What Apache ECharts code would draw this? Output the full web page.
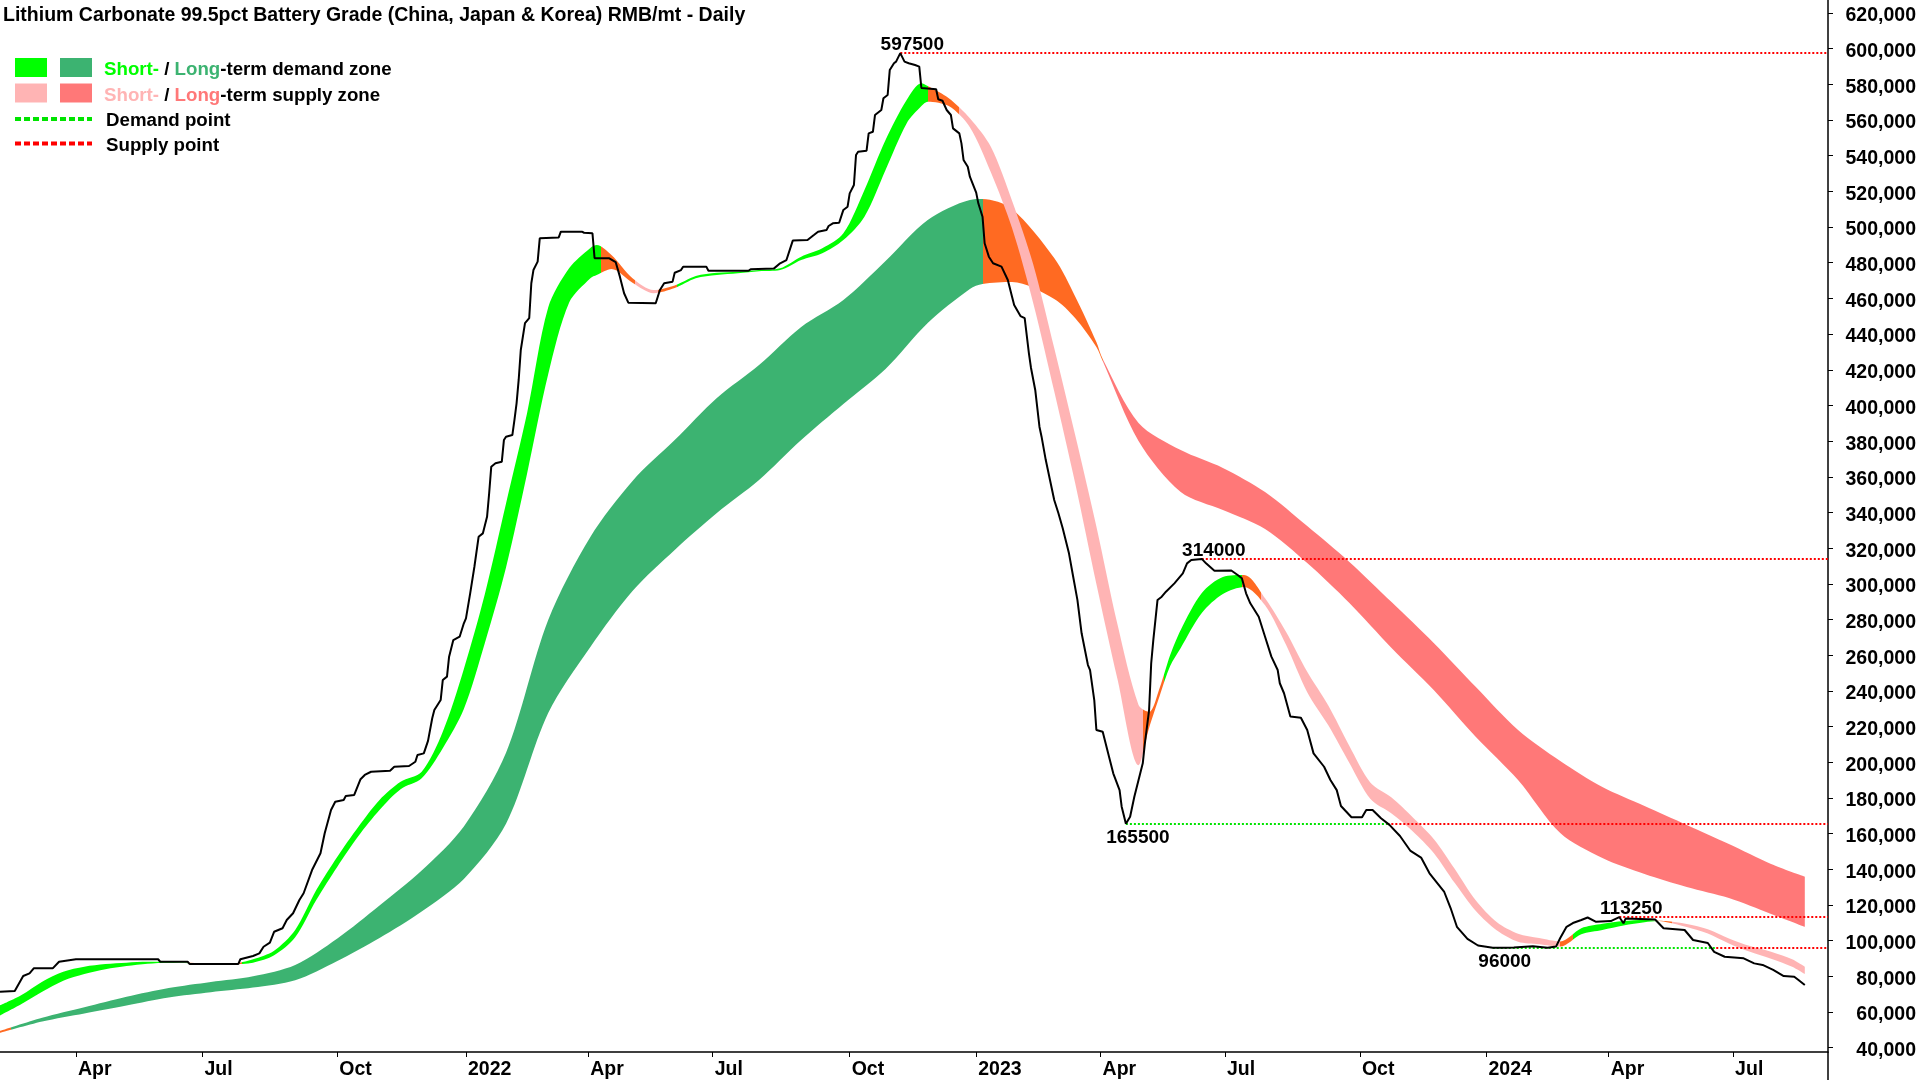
<!DOCTYPE html>
<html>
<head>
<meta charset="utf-8">
<script src="https://cdn.jsdelivr.net/npm/echarts@6/dist/echarts.min.js"></script>
<style>
html,body{margin:0;padding:0;background:#ffffff;}
#chart{width:1920px;height:1080px;}
</style>
</head>
<body>
<div id="chart"></div>
<script>
// ---------------- DATA ----------------
const chartTitle = 'Lithium Carbonate 99.5pct Battery Grade (China, Japan & Korea) RMB/mt - Daily';
const firstTradingDay = '2021-02-03';
const lastAxisDay = '2024-09-02';
// Chinese market holidays (weekdays without trading)
const marketHolidays = [
 '2021-02-11','2021-02-12','2021-02-15','2021-02-16','2021-02-17','2021-04-05','2021-05-03','2021-05-04','2021-05-05','2021-06-14','2021-09-20','2021-09-21','2021-10-01','2021-10-04','2021-10-05','2021-10-06','2021-10-07',
 '2022-01-03','2022-01-31','2022-02-01','2022-02-02','2022-02-03','2022-02-04','2022-04-04','2022-04-05','2022-05-02','2022-05-03','2022-05-04','2022-06-03','2022-09-12','2022-10-03','2022-10-04','2022-10-05','2022-10-06','2022-10-07',
 '2023-01-02','2023-01-23','2023-01-24','2023-01-25','2023-01-26','2023-01-27','2023-04-05','2023-05-01','2023-05-02','2023-05-03','2023-06-22','2023-06-23','2023-09-29','2023-10-02','2023-10-03','2023-10-04','2023-10-05','2023-10-06',
 '2024-01-01','2024-02-09','2024-02-12','2024-02-13','2024-02-14','2024-02-15','2024-02-16','2024-04-04','2024-04-05','2024-05-01','2024-05-02','2024-05-03','2024-06-10'
];

// Price (session number since first trading day, RMB/mt)
const priceSessions = [0,7,11,14,16,25,28,36,75,76,89,90,113,114,120,123,125,128,130,134,136,139,142,144,148,152,154,157,159,163,164,168,171,173,176,185,187,194,197,198,201,203,205,206,209,210,212,213,215,218,220,221,223,225,227,229,231,232,233,235,238,239,240,243,244,245,246,247,249,251,252,253,255,256,265,266,276,277,281,282,289,292,294,296,298,311,313,315,319,320,323,324,335,336,355,356,367,370,373,376,383,386,388,392,393,395,398,400,402,403,405,406,407,411,412,414,415,418,419,421,422,424,425,427,429,431,434,436,437,444,445,447,449,451,452,455,456,457,459,460,463,464,466,467,469,471,475,478,480,481,484,486,488,489,491,493,494,496,498,500,502,504,507,509,511,513,516,517,519,520,523,526,528,531,532,534,536,538,540,542,543,545,546,547,549,551,553,557,561,563,565,570,572,576,584,587,589,591,593,597,600,603,606,607,609,612,617,620,623,628,631,634,636,641,646,648,651,655,659,664,669,674,678,685,688,691,696,701,708,714,718,727,734,738,740,743,746,750,753,757,764,768,770,771,785,789,799,803,810,813,818,827,832,836,841,846,851,853,856];
const priceValues = [71400,71800,80200,81700,84500,84500,88200,89600,89600,88200,88200,86900,86900,89600,91400,92900,96600,98900,105000,107000,111600,115400,122800,126600,139600,149000,160200,173300,177900,178900,181100,181700,190500,192900,194700,195300,197500,197900,200300,204100,205000,212000,224700,229300,234900,246100,248000,259200,268500,270400,277900,280700,294700,309600,326400,328300,337600,350800,365700,367600,368500,380600,382500,383400,391900,401200,414300,431100,446100,448900,468500,475900,480600,493700,494200,497400,497400,496800,496500,482500,482500,480400,472200,462900,457600,457300,464700,468500,469400,474400,475900,477800,477800,475500,475500,476300,476700,479700,481500,492400,492700,495500,497400,498300,500600,502100,502400,509600,511400,518900,523600,540400,542200,542800,552500,553400,562800,565600,572200,574000,588000,591800,592700,597500,592700,591800,590800,589900,578000,577200,571600,570800,565600,562800,555300,552500,546900,537600,533800,528200,519300,513300,505800,490900,483400,479700,477800,470300,461000,456300,450100,448900,429200,421000,408700,388100,382500,369400,358200,347000,339600,331300,317100,304000,291000,272300,254500,251700,234900,218100,217100,203100,193800,184400,175100,165500,169500,180700,190100,199400,210600,229300,255500,268500,291000,292800,295600,300300,305900,311500,313400,314000,311500,307400,307500,305000,303100,294700,289100,281600,270400,259200,251700,244300,238700,225600,225000,218100,205000,197500,190100,184400,175500,169200,169200,173300,173300,168600,164900,158700,150300,146600,137800,127300,118300,107800,101000,97300,96000,96000,96200,96900,96000,96700,101500,107800,109900,111600,113000,110600,111000,113250,109800,112400,111900,107000,106000,100400,98700,93700,91000,90100,87300,86400,83600,80200,79800,78000,75200];

// Short-term zone (two edges)
const shortSessions = [0,10,20,30,40,50,60,70,80,90,100,110,120,130,140,150,160,170,180,190,200,210,220,230,240,250,260,270,280,283,290,300,310,320,330,340,350,360,370,380,390,400,410,420,430,437,440,450,460,470,480,490,500,510,520,530,540,545,550,555,560,570,580,590,600,610,620,630,640,650,660,670,680,690,700,710,720,730,740,750,760,770,780,786,790,800,810,820,830,840,850,856];
const shortUpper = [63700,69400,77000,82600,85400,86900,87700,88200,88200,87600,87300,87200,89600,94400,106000,128400,147100,163900,178900,189100,194700,217100,252300,294500,345100,395800,454900,477000,488300,489900,484300,471300,464700,467300,472600,474400,475000,475900,476900,483400,488100,496500,520800,548800,571200,580600,579000,572200,561000,544900,514800,479300,432200,383100,332200,277300,232100,228200,241600,260100,274200,294900,303900,305000,292000,273000,250700,231800,209100,188500,180200,169200,157000,140200,122500,110300,103900,101500,99600,107000,109500,111000,111600,111200,111000,109400,106400,101300,97000,93800,89600,85400];
const shortLower = [58100,64400,71400,77600,81300,84000,85800,87100,87700,87400,87000,86900,87700,91800,101900,122800,141500,158700,173300,184900,191000,207800,229800,267000,309200,361900,417500,457800,471300,473100,476500,468800,462900,465800,471300,473100,474100,475200,475900,481500,485300,492700,505800,532000,558100,567800,570300,567800,556000,530600,499400,457600,407900,356100,300000,246700,198400,219200,237200,254000,264100,283700,294300,298300,288000,265700,239300,220700,199600,179400,171300,161400,149200,132300,116600,105700,99400,98000,96700,103600,106000,108500,110300,111000,110500,107700,104100,98500,93800,89900,85400,81300];
// zone state from a session onward
const shortZoneStates = [[0,'demand'],[89,'mixed'],[115,'demand'],[285,'mixed'],[301,'supply'],[312,'mixed'],[321,'demand'],[440,'mixed'],[455,'supply'],[542,'mixed'],[552,'demand'],[589,'mixed'],[598,'supply'],[740,'mixed'],[746,'demand'],[786,'mixed'],[793,'supply']];

// Long-term zone
const longSessions = [0,20,40,60,80,100,120,140,160,180,200,220,240,260,280,300,320,340,360,380,400,420,440,460,466,480,500,510,520,523,540,560,580,600,620,640,660,680,700,720,740,760,780,800,820,840,856];
const longUpper = [49400,56800,62700,68600,73500,76900,80100,86400,101200,119700,139300,164000,205300,279800,326300,357700,380600,404200,422700,444000,459100,481000,504000,515200,515700,510100,482600,461000,435600,426000,390200,375000,365000,351500,332400,312300,289800,266900,242200,218100,200700,186100,175500,164900,154200,143000,135900];
const longLower = [48300,54700,59200,63700,68200,71100,73700,77800,88600,101500,116400,134600,165500,227600,264600,296000,319000,339700,358200,380600,400800,420400,446200,465300,468100,469200,459700,448900,432800,424900,380100,351500,341400,330800,311700,289300,264100,240500,214200,190100,160400,146400,137400,130100,123900,115000,107800];
const longZoneStates = [[0,'mixed'],[5,'demand'],[466,'mixed'],[523,'supply']];

// Demand / supply points
const pivotSessions = [427, 534, 570, 708, 768];
const pivotValues = [597500, 165500, 314000, 96000, 113250];
const pivotTypes = ['supply', 'demand', 'supply', 'demand', 'supply'];
const pivotBreakSessions = [null, 658, null, 814, null];

// Axis
const yTickValues = [40000,60000,80000,100000,120000,140000,160000,180000,200000,220000,240000,260000,280000,300000,320000,340000,360000,380000,400000,420000,440000,460000,480000,500000,520000,540000,560000,580000,600000,620000];
const monthLabels = {3:'Apr', 6:'Jul', 9:'Oct'};

// ---------------- BUILD ----------------
function buildTradingDays(start, end, holidays) {
  const hs = new Set(holidays);
  const out = [];
  const d = new Date(start + 'T00:00:00Z');
  const e = new Date(end + 'T00:00:00Z');
  while (d <= e) {
    const wd = d.getUTCDay();
    const iso = d.toISOString().slice(0, 10);
    if (wd !== 0 && wd !== 6 && !hs.has(iso)) out.push(iso);
    d.setUTCDate(d.getUTCDate() + 1);
  }
  return out;
}
const tradingDays = buildTradingDays(firstTradingDay, lastAxisDay, marketHolidays);
const lastIdx = tradingDays.length - 1;
const day = s => tradingDays[s];

const isQuarterStart = tradingDays.map((d, i) => {
  const m = +d.slice(5, 7) - 1;
  if (m % 3 !== 0) return false;
  if (i === 0) return false;
  return tradingDays[i - 1].slice(5, 7) !== d.slice(5, 7);
});

const COLORS = {
  demandShort: '#00FF00', demandLong: '#3CB371',
  supplyShort: '#FFB4B4', supplyLong: '#FF7878',
  mixed: '#FF6A22', demandPoint: '#00E400', supplyPoint: '#FF0000'
};
const FONT = '"Liberation Sans", Arial, Helvetica, sans-serif';

function pieces(states, shortOrLong) {
  return states.map((st, i) => ({
    gte: st[0],
    lt: i + 1 < states.length ? states[i + 1][0] : lastIdx + 1,
    color: st[1] === 'mixed' ? COLORS.mixed :
      (st[1] === 'demand' ? (shortOrLong === 'short' ? COLORS.demandShort : COLORS.demandLong)
                          : (shortOrLong === 'short' ? COLORS.supplyShort : COLORS.supplyLong))
  }));
}

function bandSeries(name, sessions, upper, lower) {
  const base = sessions.map((s, i) => [day(s), lower[i]]);
  const width = sessions.map((s, i) => [day(s), upper[i] - lower[i]]);
  return [
    { name: name + 'Base', type: 'line', stack: name, data: base, symbol: 'none', smooth: 0.3,
      lineStyle: { width: 0, opacity: 0 }, silent: true, animation: false },
    { name: name + 'Band', type: 'line', stack: name, data: width, symbol: 'none', smooth: 0.3,
      lineStyle: { width: 0, opacity: 0 }, areaStyle: { opacity: 1 }, silent: true, animation: false }
  ];
}

const supplyLine = { color: COLORS.supplyPoint, type: [2, 2], width: 2 };
const demandLine = { color: COLORS.demandPoint, type: [2, 2], width: 2 };
const markLineData = [];
pivotSessions.forEach((s, i) => {
  const v = pivotValues[i];
  if (pivotTypes[i] === 'supply') {
    markLineData.push([{ coord: [day(s), v], lineStyle: supplyLine }, { coord: [day(lastIdx), v] }]);
  } else {
    const b = pivotBreakSessions[i];
    markLineData.push([{ coord: [day(s), v], lineStyle: demandLine }, { coord: [day(b), v] }]);
    markLineData.push([{ coord: [day(b), v], lineStyle: supplyLine }, { coord: [day(lastIdx), v] }]);
  }
});
const markPointData = pivotSessions.map((s, i) => ({
  coord: [day(s), pivotValues[i]],
  value: pivotValues[i],
  label: { position: pivotTypes[i] === 'supply' ? 'top' : 'bottom', distance: pivotTypes[i] === 'supply' ? -2 : 4 }
}));

const series = [
  ...bandSeries('long', longSessions, longUpper, longLower),
  ...bandSeries('short', shortSessions, shortUpper, shortLower),
  {
    name: 'price', type: 'line', data: priceSessions.map((s, i) => [day(s), priceValues[i]]),
    symbol: 'none', lineStyle: { color: '#000', width: 2 }, itemStyle: { color: '#000' },
    animation: false, silent: true, z: 5,
    markLine: { silent: true, symbol: ['none', 'none'], label: { show: false }, animation: false, data: markLineData },
    markPoint: {
      silent: true, symbol: 'circle', symbolSize: 1, itemStyle: { color: 'rgba(0,0,0,0)' }, animation: false,
      label: { show: true, color: '#000', fontFamily: FONT, fontWeight: 'bold', fontSize: 19, offset: [12, 0], formatter: p => String(p.value) },
      data: markPointData
    }
  }
];

const legendTextStyle = { fontFamily: FONT, fontWeight: 'bold', fontSize: 18.7 };
function richText(x, y, text, rich) {
  return { type: 'text', x: x, y: y, silent: true,
    style: Object.assign({ text: text, fill: '#000', verticalAlign: 'middle', align: 'left', rich: rich }, legendTextStyle) };
}
const graphic = [
  { type: 'rect', silent: true, shape: { x: 15, y: 58, width: 32, height: 19 }, style: { fill: COLORS.demandShort } },
  { type: 'rect', silent: true, shape: { x: 60, y: 58, width: 32, height: 19 }, style: { fill: COLORS.demandLong } },
  { type: 'rect', silent: true, shape: { x: 15, y: 83.5, width: 32, height: 19 }, style: { fill: COLORS.supplyShort } },
  { type: 'rect', silent: true, shape: { x: 60, y: 83.5, width: 32, height: 19 }, style: { fill: COLORS.supplyLong } },
  { type: 'line', silent: true, shape: { x1: 15, y1: 119, x2: 92, y2: 119 }, style: { stroke: COLORS.demandPoint, lineWidth: 4, lineDash: [6, 3] } },
  { type: 'line', silent: true, shape: { x1: 15, y1: 143.5, x2: 92, y2: 143.5 }, style: { stroke: COLORS.supplyPoint, lineWidth: 4, lineDash: [6, 3] } },
  richText(104, 69.5, '{a|Short-} / {b|Long}-term demand zone', {
    a: Object.assign({ fill: COLORS.demandShort }, legendTextStyle), b: Object.assign({ fill: COLORS.demandLong }, legendTextStyle) }),
  richText(104, 95.5, '{a|Short-} / {b|Long}-term supply zone', {
    a: Object.assign({ fill: COLORS.supplyShort }, legendTextStyle), b: Object.assign({ fill: COLORS.supplyLong }, legendTextStyle) }),
  richText(106, 121, 'Demand point', {}),
  richText(106, 145.5, 'Supply point', {}),
  // continuation of the right axis line below the plot
  { type: 'line', silent: true, shape: { x1: 1828, y1: 1052, x2: 1828, y2: 1080 }, style: { stroke: '#000', lineWidth: 1.5 } }
];

const option = {
  animation: false,
  backgroundColor: '#ffffff',
  title: { text: chartTitle, left: 3, top: 6, padding: 0, textStyle: { fontFamily: FONT, fontWeight: 'bold', fontSize: 19.5, color: '#000' } },
  grid: { left: 0, right: 92, top: 0, bottom: 28, containLabel: false },
  xAxis: {
    type: 'category', data: tradingDays, boundaryGap: false,
    axisLine: { show: true, lineStyle: { color: '#000', width: 1.5 } },
    axisTick: { show: true, interval: (i) => isQuarterStart[i], length: 5, lineStyle: { color: '#000', width: 1 } },
    axisLabel: {
      interval: (i) => isQuarterStart[i], align: 'left', margin: 7.5, padding: [0, 0, 0, 2],
      fontFamily: FONT, fontWeight: 'bold', fontSize: 19.5, color: '#000',
      formatter: (v) => { const m = +v.slice(5, 7) - 1; return m === 0 ? v.slice(0, 4) : monthLabels[m]; }
    },
    splitLine: { show: false }
  },
  yAxis: {
    type: 'value', position: 'right', min: 37616, max: 627262, scale: true,
    axisLine: { show: true, lineStyle: { color: '#000', width: 1.5 } },
    axisTick: { show: true, length: 5, customValues: yTickValues, lineStyle: { color: '#000' } },
    axisLabel: {
      customValues: yTickValues, align: 'right', margin: 88, verticalAlign: 'top', lineHeight: 6,
      fontFamily: FONT, fontWeight: 'bold', fontSize: 19.5, color: '#000',
      formatter: (v) => String(v).replace(/\B(?=(\d{3})+(?!\d))/g, ',')
    },
    splitLine: { show: false }
  },
  visualMap: [
    { type: 'piecewise', show: false, seriesIndex: 1, dimension: 0, pieces: pieces(longZoneStates, 'long') },
    { type: 'piecewise', show: false, seriesIndex: 3, dimension: 0, pieces: pieces(shortZoneStates, 'short') }
  ],
  graphic: graphic,
  series: series
};

const chart = echarts.init(document.getElementById('chart'), null, { renderer: 'canvas' });
chart.setOption(option);
</script>
</body>
</html>
